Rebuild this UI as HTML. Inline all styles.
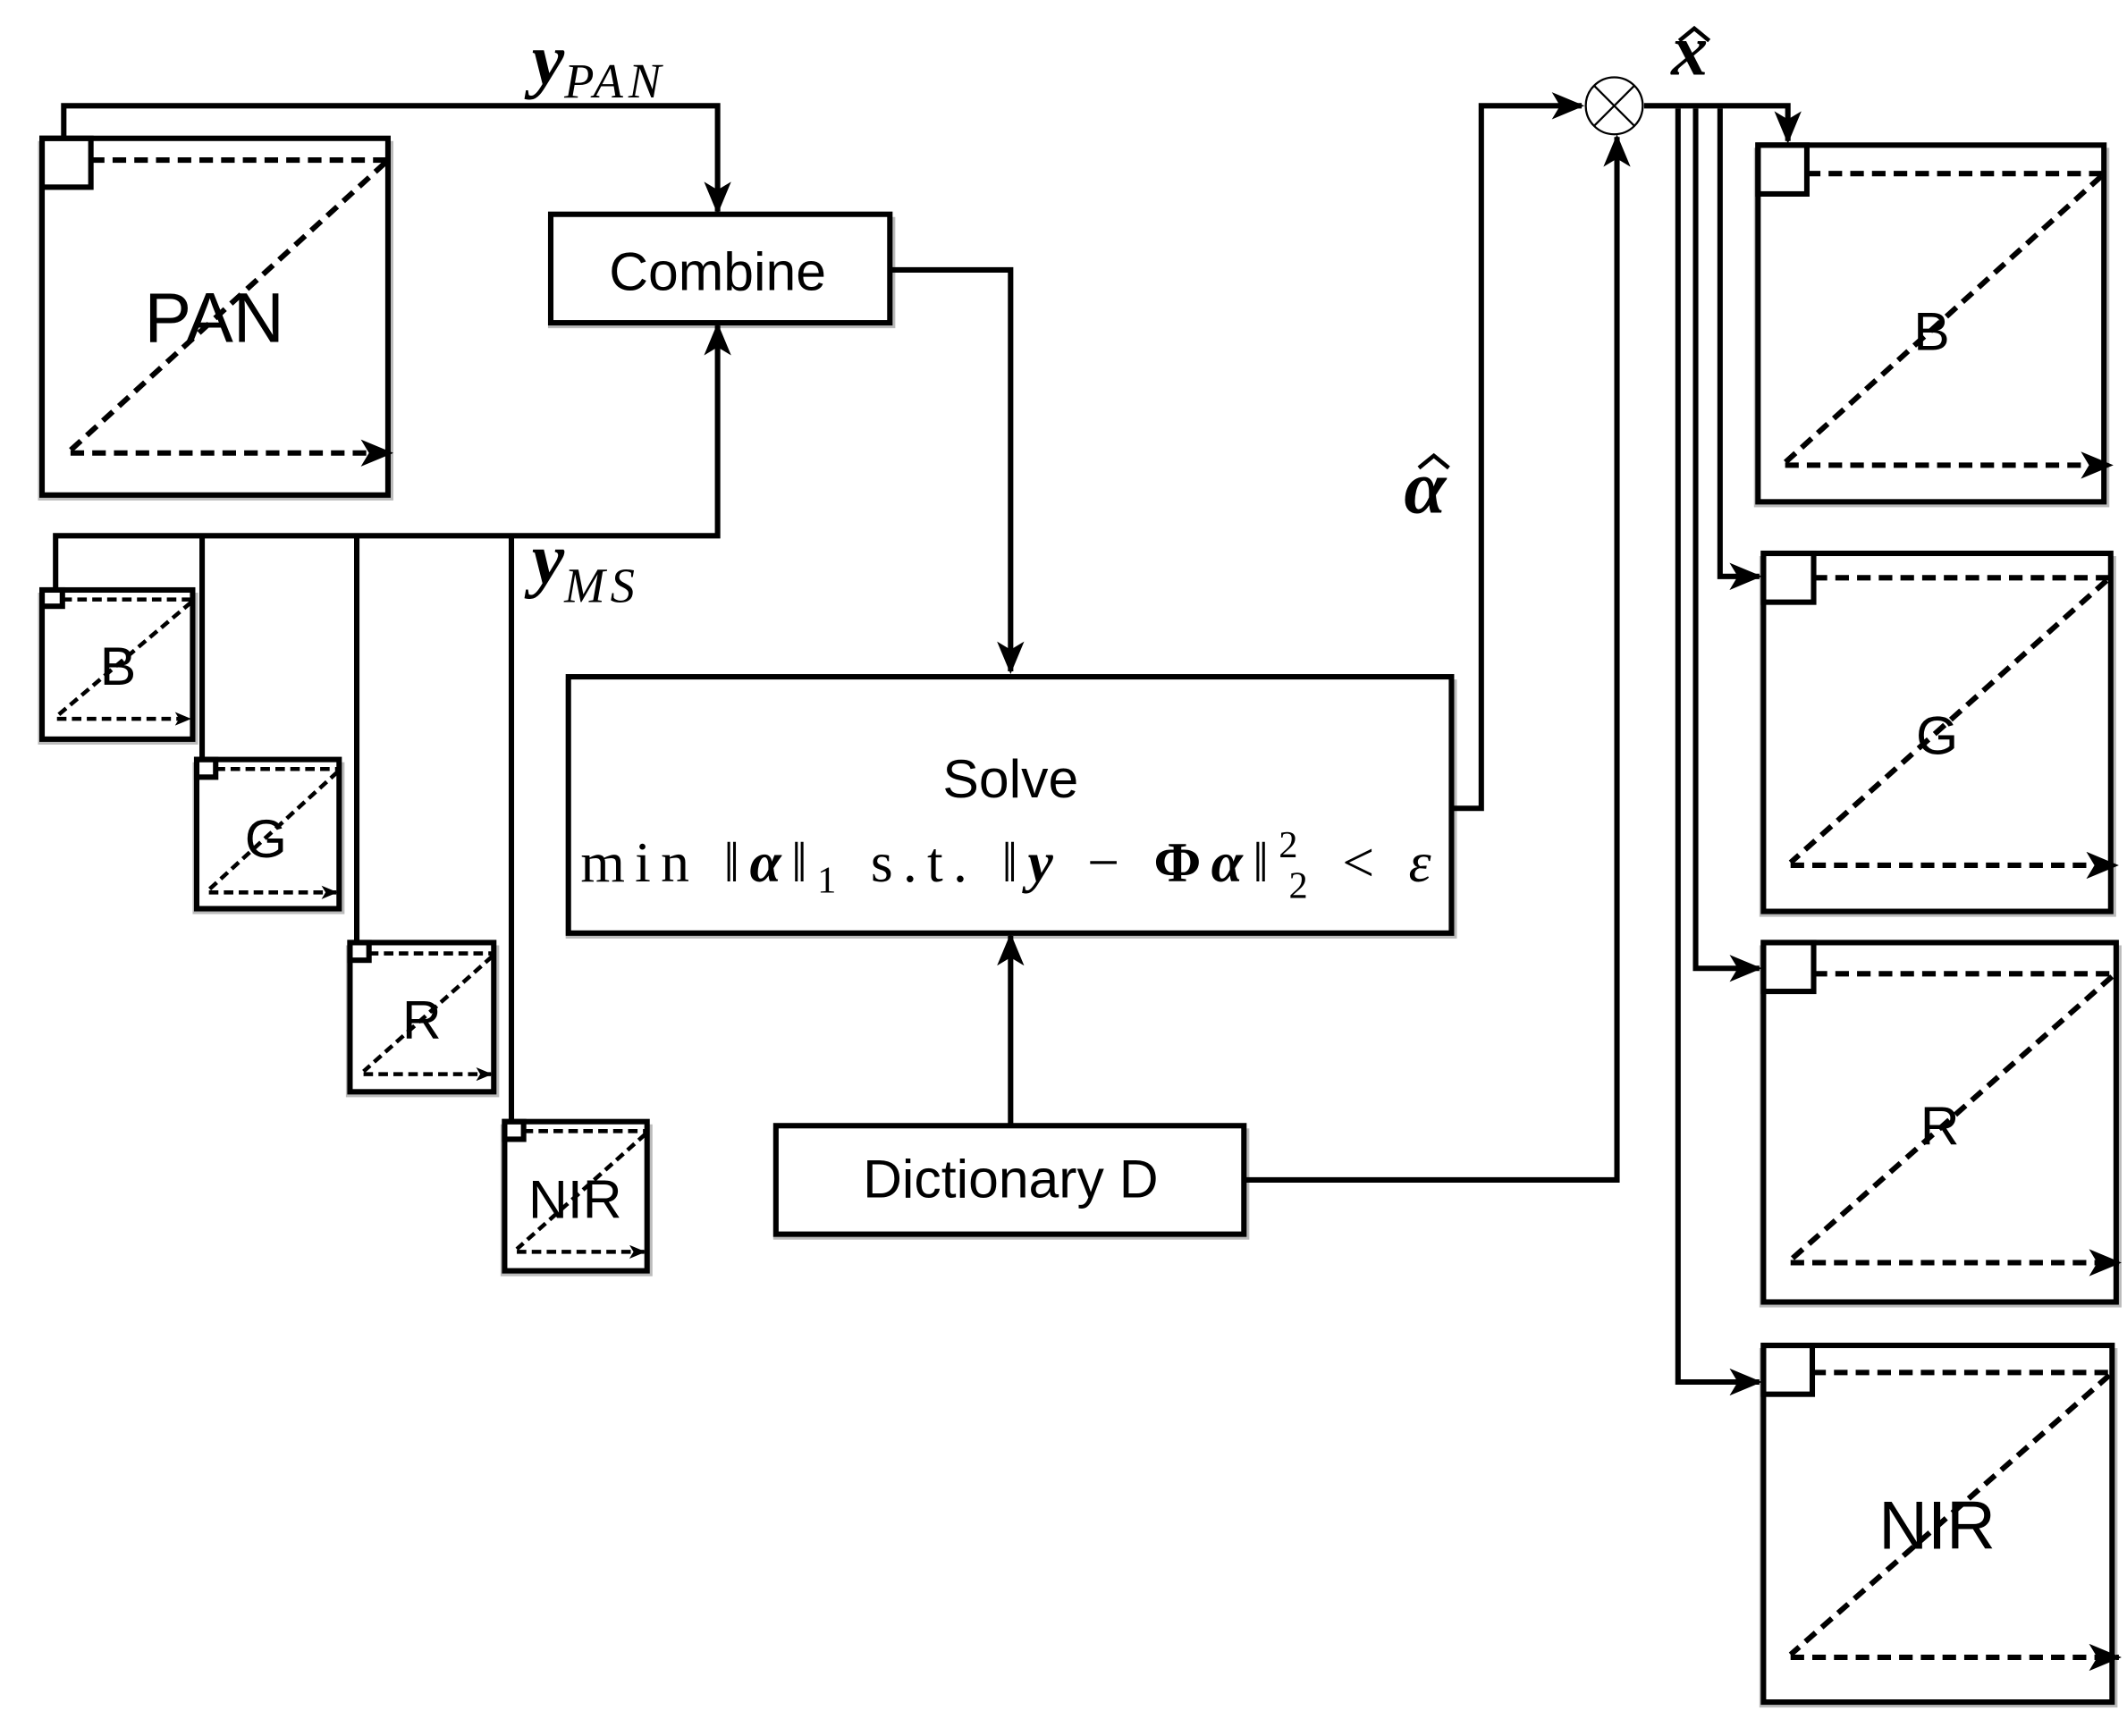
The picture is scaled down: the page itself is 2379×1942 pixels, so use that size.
<!DOCTYPE html>
<html><head><meta charset="utf-8"><style>
html,body{margin:0;padding:0;background:#fff}
svg{display:block}
.t{font-family:"Liberation Sans",sans-serif;fill:#000}
.m{font-family:"Liberation Serif",serif;fill:#000}
</style></head><body>
<svg width="2379" height="1942" viewBox="0 0 1568 1280" preserveAspectRatio="none" xmlns="http://www.w3.org/2000/svg">
<defs>
<marker id="a" markerWidth="12" markerHeight="10" refX="11" refY="5" orient="auto" markerUnits="userSpaceOnUse" viewBox="0 0 12 10">
<path d="M0,0 L12,5 L0,10 L3,5 Z" fill="#000"/></marker>
<marker id="b" markerWidth="24" markerHeight="20" refX="22" refY="10" orient="auto" markerUnits="userSpaceOnUse" viewBox="0 0 24 20">
<path d="M0,0 L24,10 L0,20 L6,10 Z" fill="#000"/></marker>
</defs>
<g fill="none" stroke="#000" stroke-width="4">
<g stroke="none" fill="#bbb">
<rect x="28" y="104" width="262" height="265"/><rect x="404" y="160" width="256" height="82"/>
<rect x="28" y="437" width="118" height="112"/><rect x="142" y="562" width="112" height="112"/>
<rect x="255" y="697" width="113" height="112"/><rect x="369" y="829" width="112" height="112"/>
<rect x="417" y="501" width="657" height="191"/><rect x="570" y="832" width="351" height="82"/>
<rect x="1293" y="109" width="262" height="265"/><rect x="1297" y="410" width="263" height="266"/>
<rect x="1297" y="697" width="267" height="267"/><rect x="1297" y="994" width="264" height="265"/>
</g>
<rect x="31" y="102" width="255" height="263" fill="#fff"/><rect x="31" y="102" width="36" height="36"/>
<g stroke-dasharray="10,6"><path d="M67 118H286M284 120L52 332"/><path d="M52 334H288" marker-end="url(#b)"/></g>
<rect x="31" y="435" width="111" height="110" fill="#fff"/><rect x="31" y="435" width="15" height="12"/>
<g stroke-dasharray="7,4" stroke-width="3"><path d="M46 442H142M141 444L42 528"/><path d="M42 530H140" marker-end="url(#a)"/></g>
<rect x="145" y="560" width="105" height="110" fill="#fff"/><rect x="145" y="560" width="14" height="13"/>
<g stroke-dasharray="7,4" stroke-width="3"><path d="M159 567H250M249 569L154 656"/><path d="M154 658H248" marker-end="url(#a)"/></g>
<rect x="258" y="695" width="106" height="110" fill="#fff"/><rect x="258" y="695" width="14" height="13"/>
<g stroke-dasharray="7,4" stroke-width="3"><path d="M272 703H364M363 705L268 790"/><path d="M268 792H362" marker-end="url(#a)"/></g>
<rect x="372" y="827" width="105" height="110" fill="#fff"/><rect x="372" y="827" width="14" height="13"/>
<g stroke-dasharray="7,4" stroke-width="3"><path d="M386 834H477M476 836L381 921"/><path d="M381 923H475" marker-end="url(#a)"/></g>
<rect x="1296" y="107" width="255" height="263" fill="#fff"/><rect x="1296" y="107" width="36" height="36"/>
<g stroke-dasharray="10,6"><path d="M1332 128H1551M1549 130L1316 341"/><path d="M1316 343H1556" marker-end="url(#b)"/></g>
<rect x="1300" y="408" width="256" height="264" fill="#fff"/><rect x="1300" y="408" width="37" height="36"/>
<g stroke-dasharray="10,6"><path d="M1337 426H1556M1553 428L1320 636"/><path d="M1320 638H1560" marker-end="url(#b)"/></g>
<rect x="1300" y="695" width="260" height="265" fill="#fff"/><rect x="1300" y="695" width="37" height="36"/>
<g stroke-dasharray="10,6"><path d="M1337 718H1560M1557 720L1320 929"/><path d="M1320 931H1562" marker-end="url(#b)"/></g>
<rect x="1300" y="992" width="257" height="263" fill="#fff"/><rect x="1300" y="992" width="36" height="36"/>
<g stroke-dasharray="10,6"><path d="M1336 1012H1557M1555 1014L1320 1220"/><path d="M1320 1222H1562" marker-end="url(#b)"/></g>
<rect x="406" y="158" width="250" height="80" fill="#fff"/>
<rect x="419" y="499" width="651" height="189" fill="#fff"/>
<rect x="572" y="830" width="345" height="80" fill="#fff"/>
<path d="M47 102V78H529V156" marker-end="url(#b)"/>
<path d="M41 435V395H529V240" marker-end="url(#b)"/>
<path d="M149 395V560M263 395V695M377 395V827"/>
<path d="M656 199H745V495" marker-end="url(#b)"/>
<path d="M745 830V690" marker-end="url(#b)"/>
<path d="M917 870H1192V101" marker-end="url(#b)"/>
<path d="M1070 596H1092V78H1166" marker-end="url(#b)"/>
<path d="M1212 78H1318V104" marker-end="url(#b)"/>
<path d="M1268 80V425H1297" marker-end="url(#b)"/>
<path d="M1250 80V714H1297" marker-end="url(#b)"/>
<path d="M1237 80V1019H1297" marker-end="url(#b)"/>
<g stroke-width="1.5"><circle cx="1190" cy="78" r="21" fill="#fff"/><path d="M1175 63L1205 93M1205 63L1175 93"/></g>
<path d="M1046 345L1057 336L1068 345M1238 30L1249 21L1260 30" stroke-width="3"/>
</g>
<text class="t" x="158" y="252" font-size="52" text-anchor="middle">PAN</text>
<text class="t" x="529" y="214" font-size="40" text-anchor="middle">Combine</text>
<text class="t" x="745" y="588" font-size="40" text-anchor="middle">Solve</text>
<text class="t" x="745" y="883" font-size="40" text-anchor="middle">Dictionary D</text>
<text class="t" x="87" y="505" font-size="40" text-anchor="middle">B</text>
<text class="t" x="196" y="632" font-size="40" text-anchor="middle">G</text>
<text class="t" x="311" y="766" font-size="40" text-anchor="middle">R</text>
<text class="t" x="424" y="898" font-size="40" text-anchor="middle">NIR</text>
<text class="t" x="1424" y="258" font-size="40" text-anchor="middle">B</text>
<text class="t" x="1428" y="556" font-size="40" text-anchor="middle">G</text>
<text class="t" x="1430" y="844" font-size="40" text-anchor="middle">R</text>
<text class="t" x="1428" y="1142" font-size="50" text-anchor="middle">NIR</text>
<text class="m" x="392" y="62" font-size="54" font-style="italic" font-weight="bold">y<tspan font-size="36" font-weight="normal" dy="10" letter-spacing="4">PAN</tspan></text>
<text class="m" x="392" y="430" font-size="54" font-style="italic" font-weight="bold">y<tspan font-size="36" font-weight="normal" dy="14" letter-spacing="4">MS</tspan></text>
<text class="m" x="1035" y="378" font-size="56" font-style="italic" font-weight="bold">α</text>
<text class="m" x="1232" y="55" font-size="54" font-style="italic" font-weight="bold">x</text>
<text class="m" x="428" y="650" font-size="42" textLength="627" lengthAdjust="spacing">min ‖<tspan font-weight="bold" font-style="italic">α</tspan>‖<tspan font-size="28" dy="8">1</tspan><tspan dy="-8">   s.t. ‖</tspan><tspan font-weight="bold" font-style="italic">y</tspan> − <tspan font-weight="bold">Φ</tspan><tspan font-weight="bold" font-style="italic">α</tspan>‖<tspan font-size="28" dy="-18">2</tspan><tspan font-size="28" dx="-14" dy="30">2</tspan><tspan dy="-12"> &lt; </tspan><tspan font-style="italic">ε</tspan></text>
</svg>
</body></html>
